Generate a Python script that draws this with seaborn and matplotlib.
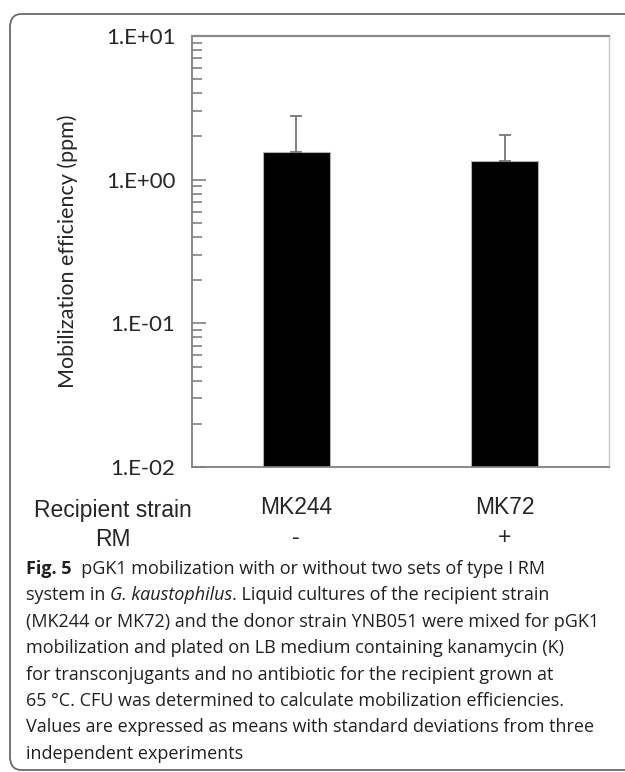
import numpy as np
import pandas as pd
import matplotlib
matplotlib.use("Agg")
import matplotlib.pyplot as plt
from matplotlib.patches import FancyBboxPatch
from matplotlib.ticker import FixedLocator, FuncFormatter, LogLocator, NullFormatter
import seaborn as sns

# ---- data ----
strains = ["MK244", "MK72"]
rm_status = ["-", "+"]
efficiency = [1.55, 1.34]
sd_upper = [1.21, 0.72]
y_ticks = [1e-2, 1e-1, 1e0, 1e1]
y_tick_labels = ["1.E-02", "1.E-01", "1.E+00", "1.E+01"]

caption_lines = [
    [("Fig. 5", "bold", "normal"), ("  pGK1 mobilization with or without two sets of type I RM", "normal", "normal")],
    [("system in ", "normal", "normal"), ("G. kaustophilus", "normal", "italic"), (". Liquid cultures of the recipient strain", "normal", "normal")],
    [("(MK244 or MK72) and the donor strain YNB051 were mixed for pGK1", "normal", "normal")],
    [("mobilization and plated on LB medium containing kanamycin (K)", "normal", "normal")],
    [("for transconjugants and no antibiotic for the recipient grown at", "normal", "normal")],
    [("65 \u00b0C. CFU was determined to calculate mobilization efficiencies.", "normal", "normal")],
    [("Values are expressed as means with standard deviations from three", "normal", "normal")],
    [("independent experiments", "normal", "normal")],
]

df = pd.DataFrame({"strain": strains, "eff": efficiency})

sns.set_style("white")
W, H = 625, 772
fig = plt.figure(figsize=(W / 100, H / 100), dpi=100)
ax = fig.add_axes([192 / W, 1 - 467 / H, (609 - 192) / W, (467 - 36) / H])

sns.barplot(data=df, x="strain", y="eff", ax=ax, color="black", width=0.32,
            edgecolor="#b0b0b0", linewidth=0.8, errorbar=None, saturation=1)
ax.set_yscale("log")
ax.set_ylim(1e-2, 1e1)
ax.set_xlim(-0.5, 1.5)

# error bars (upper only)
centers = [p.get_x() + p.get_width() / 2 for p in ax.patches]
ax.errorbar(centers, efficiency, yerr=[np.zeros(len(sd_upper)), sd_upper],
            fmt="none", ecolor="#767676", elinewidth=1.3, capsize=4, capthick=1.3)

# y axis
ax.yaxis.set_major_locator(FixedLocator(y_ticks))
ax.yaxis.set_major_formatter(FuncFormatter(lambda v, p: y_tick_labels[y_ticks.index(v)] if v in y_ticks else ""))
ax.yaxis.set_minor_locator(LogLocator(base=10, subs=np.arange(2, 10)))
ax.yaxis.set_minor_formatter(NullFormatter())
ax.tick_params(axis="y", which="major", direction="in", length=10, width=1.2,
               color="#808080", pad=12, labelsize=16, left=True)
ax.tick_params(axis="y", which="minor", direction="in", length=7.5, width=1.2,
               color="#808080", left=True)
for lab in ax.get_yticklabels():
    lab.set_family("Lato")

ax.set_ylabel("Mobilization efficiency (ppm)", family="Lato", fontsize=15.5, labelpad=20)

# x axis labels
ax.set_xlabel("")
ax.set_xticks(centers)
ax.set_xticklabels([f"{s}\n{r}" for s, r in zip(strains, rm_status)],
                   family="Liberation Sans", fontsize=16.5, linespacing=1.38)
ax.tick_params(axis="x", length=0, pad=21)

for side in ["left", "bottom"]:
    ax.spines[side].set_color("#808080")
    ax.spines[side].set_linewidth(1.3)
ax.spines["top"].set_color("#8a8a8a")
ax.spines["top"].set_linewidth(1.6)
ax.spines["right"].set_color("#c8c8c8")
ax.spines["right"].set_linewidth(1.0)

fig.text(113 / W, 1 - 525 / H, "Recipient strain\nRM", ha="center", va="center",
         family="Liberation Sans", fontsize=16.5, linespacing=1.35, multialignment="center")

# frame
frame = FancyBboxPatch((10 / W, 2 / H), 700 / W, (758 - 2) / H,
                       boxstyle="round,pad=0,rounding_size=0.018",
                       transform=fig.transFigure, fill=False,
                       edgecolor="#6a6a6a", linewidth=1.3)
fig.patches.append(frame)

# caption
renderer = fig.canvas.get_renderer()
cap_size = 13
y0 = 574
dy = 26.4
for i, parts in enumerate(caption_lines):
    y = 1 - (y0 + i * dy) / H
    x_px = 26.0
    for text, weight, style in parts:
        t = fig.text(x_px / W, y, text, ha="left", va="baseline", fontsize=cap_size,
                     family="Open Sans", weight=weight, style=style, color="#231f20")
        ext = t.get_window_extent(renderer=renderer)
        x_px = ext.x1

fig.savefig("out.png", dpi=100)
